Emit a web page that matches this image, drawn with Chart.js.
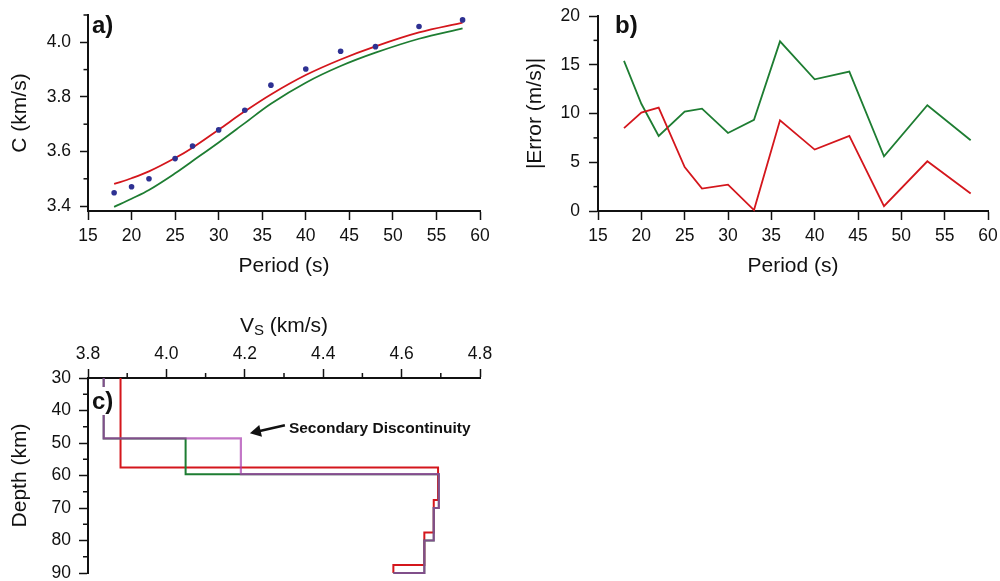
<!DOCTYPE html>
<html>
<head>
<meta charset="utf-8">
<script src="https://cdn.jsdelivr.net/npm/chart.js@4.4.1/dist/chart.umd.min.js"></script>
<style>
  html, body { margin: 0; padding: 0; background: #fff; }
  #wrap { position: relative; width: 1000px; height: 581px; overflow: hidden; }
  canvas { position: absolute; }
  #chartA { left: 0; top: 0; }
  #chartB { left: 500px; top: 0; }
  #chartC { left: 0; top: 300px; }
</style>
</head>
<body>
<div id="wrap">
  <canvas id="chartA" width="500" height="290"></canvas>
  <canvas id="chartB" width="500" height="290"></canvas>
  <canvas id="chartC" width="500" height="281"></canvas>
</div>
<script>
// periods (s), shared by a) and b)
const periods = [18, 20, 22, 25, 27, 30, 33, 36, 40, 44, 48, 53, 58];

// a) phase velocity C (km/s)
const observedC = [3.449, 3.471, 3.500, 3.574, 3.620, 3.679, 3.751, 3.843, 3.902, 3.967, 3.984, 4.058, 4.082];
const redModelC = [3.481, 3.502, 3.527, 3.576, 3.614, 3.680, 3.747, 3.809, 3.880, 3.937, 3.985, 4.036, 4.072];
const greenModelC = [3.397, 3.427, 3.459, 3.520, 3.565, 3.633, 3.704, 3.775, 3.852, 3.913, 3.962, 4.013, 4.051];

// b) |error| (m/s)
const redError = [8.5, 10.1, 10.6, 4.5, 2.3, 2.7, 0.1, 9.3, 6.3, 7.7, 0.5, 5.1, 1.8];
const greenError = [15.4, 11.0, 7.7, 10.2, 10.5, 8.0, 9.35, 17.4, 13.5, 14.3, 5.6, 10.85, 7.25];

// c) Vs profiles: layer tops (km) and layer velocities (km/s)
const redTops = [30, 57.5, 67.5, 77.5, 87.5];
const redVs = [3.883, 4.693, 4.682, 4.658, 4.579];
const greenTops = [30, 48.6, 59.6, 70, 80, 90];
const greenVs = [3.84, 4.049, 4.695, 4.682, 4.658, 4.579];
const purpleTops = [30, 48.6, 59.6, 70, 80, 90];
const purpleVs = [3.84, 4.19, 4.695, 4.682, 4.658, 4.579];
const profileBottom = 90;

// annotation in c)
const annoText = 'Secondary Discontinuity';
const annoVs = 4.213;
const annoDepth = 47.0;

// ticks
const periodTicks = [15, 20, 25, 30, 35, 40, 45, 50, 55, 60];
const cTicks = [3.4, 3.6, 3.8, 4.0];
const cMinor = [3.5, 3.7, 3.9, 4.1];
const errTicks = [0, 5, 10, 15, 20];
const errMinor = [2.5, 7.5, 12.5, 17.5];
const vsTicks = [3.8, 4.0, 4.2, 4.4, 4.6, 4.8];
const vsMinor = [3.9, 4.1, 4.3, 4.5, 4.7];
const depthTicks = [30, 40, 50, 60, 70, 80, 90];
const depthMinor = [35, 45, 55, 65, 75, 85];

const FONT = "'Liberation Sans', Arial, Helvetica, sans-serif";
const INK = '#111';
const RED = '#d4161c';
const GREEN = '#1e7d32';
const PURPLE = 'rgba(170, 60, 175, 0.7)';
const BLUE = '#2e3192';

function pairs(xs, ys) {
    return xs.map((x, i) => ({ x: x, y: ys[i] }));
}

// turn layered model into step-line points (x = velocity, y = depth)
function stepPoints(tops, vs, bottom) {
    const pts = [];
    tops.forEach((top, i) => {
        const base = i + 1 < tops.length ? tops[i + 1] : bottom;
        pts.push({ x: vs[i], y: top }, { x: vs[i], y: base });
    });
    return pts;
}

function makeAxis(o) {
    return {
        type: 'linear',
        position: o.position,
        min: o.min,
        max: o.max,
        reverse: !!o.reverse,
        afterBuildTicks: s => { s.ticks = o.ticks.map(v => ({ value: v })); },
        afterFit: s => {
            if (s.isHorizontal()) s.height = o.size;
            else s.width = o.size;
            // keep edge labels from pushing the plot area around
            s.paddingTop = s.paddingBottom = s.paddingLeft = s.paddingRight = 0;
        },
        border: { display: true, color: INK, width: 2 },
        grid: { drawOnChartArea: false, drawTicks: true, tickLength: o.tickLen, tickWidth: 1.5, tickColor: INK },
        ticks: {
            color: INK,
            padding: o.pad,
            autoSkip: false,
            maxRotation: 0,
            font: { family: FONT, size: 17.5 },
            callback: v => Number(v).toFixed(o.digits)
        },
        title: o.title
            ? { display: true, text: o.title, color: INK, font: { family: FONT, size: 21 }, padding: o.titlePad }
            : { display: false }
    };
}

// short minor ticks, placed through the scales
function minorTickPlugin(spec) {
    return {
        id: 'minorTicks',
        afterDraw(chart) {
            const ctx = chart.ctx;
            ctx.save();
            ctx.strokeStyle = INK;
            ctx.lineWidth = 1.5;
            spec.forEach(([id, values, len]) => {
                const s = chart.scales[id];
                values.forEach(v => {
                    const p = s.getPixelForValue(v);
                    ctx.beginPath();
                    if (s.position === 'left') { ctx.moveTo(s.right, p); ctx.lineTo(s.right - len, p); }
                    else if (s.position === 'top') { ctx.moveTo(p, s.bottom); ctx.lineTo(p, s.bottom - len); }
                    else { ctx.moveTo(p, s.top); ctx.lineTo(p, s.top + len); }
                    ctx.stroke();
                });
            });
            ctx.restore();
        }
    };
}

// "a)", "b)", "c)" labels
function panelLabelPlugin(text, dx, dy, box) {
    return {
        id: 'panelLabel',
        afterDatasetsDraw(chart) {
            const { ctx, chartArea } = chart;
            ctx.save();
            if (box) {
                ctx.fillStyle = '#fff';
                ctx.fillRect(chartArea.left + box[0], chartArea.top + box[1], box[2], box[3]);
            }
            ctx.fillStyle = INK;
            ctx.font = 'bold 24px ' + FONT;
            ctx.textBaseline = 'alphabetic';
            ctx.textAlign = 'left';
            ctx.fillText(text, chartArea.left + dx, chartArea.top + dy);
            ctx.restore();
        }
    };
}

const baseOptions = {
    responsive: false,
    animation: false,
    devicePixelRatio: 1,
    events: []
};

// ---------- a) ----------
new Chart(document.getElementById('chartA'), {
    type: 'scatter',
    data: {
        datasets: [
            { data: pairs(periods, observedC), showLine: false, pointRadius: 2.8, pointBackgroundColor: BLUE, pointBorderWidth: 0 },
            { data: pairs(periods, redModelC), showLine: true, borderColor: RED, borderWidth: 1.8, pointRadius: 0, tension: 0.35 },
            { data: pairs(periods, greenModelC), showLine: true, borderColor: GREEN, borderWidth: 1.8, pointRadius: 0, tension: 0.35 }
        ]
    },
    options: {
        ...baseOptions,
        layout: { padding: { left: 0, top: 15, right: 20, bottom: 0 } },
        plugins: { legend: { display: false }, tooltip: { enabled: false } },
        scales: {
            x: makeAxis({ position: 'bottom', min: 15, max: 60, ticks: periodTicks, size: 79, tickLen: 9, pad: 6, digits: 0,
                title: 'Period (s)', titlePad: { bottom: 11 } }),
            y: makeAxis({ position: 'left', min: 3.382, max: 4.1, ticks: cTicks, size: 88, tickLen: 8, pad: 9, digits: 1,
                title: 'C (km/s)', titlePad: { top: 8 } })
        }
    },
    plugins: [minorTickPlugin([['y', cMinor, 4.5]]), panelLabelPlugin('a)', 4, 18)]
});

// ---------- b) ----------
new Chart(document.getElementById('chartB'), {
    type: 'scatter',
    data: {
        datasets: [
            { data: pairs(periods, redError), showLine: true, borderColor: RED, borderWidth: 1.8, pointRadius: 0, clip: 3 },
            { data: pairs(periods, greenError), showLine: true, borderColor: GREEN, borderWidth: 1.8, pointRadius: 0, clip: 3 }
        ]
    },
    options: {
        ...baseOptions,
        layout: { padding: { left: 0, top: 16, right: 12, bottom: 0 } },
        plugins: { legend: { display: false }, tooltip: { enabled: false } },
        scales: {
            x: makeAxis({ position: 'bottom', min: 15, max: 60, ticks: periodTicks, size: 79, tickLen: 9, pad: 6, digits: 0,
                title: 'Period (s)', titlePad: { bottom: 11 } }),
            y: makeAxis({ position: 'left', min: 0, max: 20, ticks: errTicks, size: 98, tickLen: 9, pad: 9, digits: 0,
                title: '|Error (m/s)|', titlePad: { top: 23 } })
        }
    },
    plugins: [minorTickPlugin([['y', errMinor, 4.5]]), panelLabelPlugin('b)', 17, 17)]
});

// ---------- c) ----------
const vsTitlePlugin = {
    id: 'vsTitle',
    afterDraw(chart) {
        const { ctx, chartArea } = chart;
        ctx.save();
        ctx.fillStyle = INK;
        ctx.textBaseline = 'alphabetic';
        ctx.textAlign = 'left';
        const big = '21px ' + FONT, small = '15px ' + FONT;
        ctx.font = big;
        const wV = ctx.measureText('V').width;
        const wRest = ctx.measureText(' (km/s)').width;
        ctx.font = small;
        const wS = ctx.measureText('S').width;
        let x = (chartArea.left + chartArea.right) / 2 - (wV + wS + wRest) / 2;
        const base = chartArea.top - 46;
        ctx.font = big;
        ctx.fillText('V', x, base);
        x += wV;
        ctx.font = small;
        ctx.fillText('S', x, base + 3);
        x += wS;
        ctx.font = big;
        ctx.fillText(' (km/s)', x, base);
        ctx.restore();
    }
};

const annotationPlugin = {
    id: 'annotation',
    afterDatasetsDraw(chart) {
        const { ctx, scales } = chart;
        const tx = scales.x.getPixelForValue(annoVs);
        const ty = scales.y.getPixelForValue(annoDepth);
        const ex = tx + 35, ey = ty - 8;
        const ang = Math.atan2(ey - ty, ex - tx);
        const hl = 11, hw = 6;
        ctx.save();
        ctx.strokeStyle = INK;
        ctx.fillStyle = INK;
        ctx.lineWidth = 2.6;
        ctx.beginPath();
        ctx.moveTo(tx + Math.cos(ang) * (hl - 2), ty + Math.sin(ang) * (hl - 2));
        ctx.lineTo(ex, ey);
        ctx.stroke();
        const bx = tx + Math.cos(ang) * hl, by = ty + Math.sin(ang) * hl;
        ctx.beginPath();
        ctx.moveTo(tx, ty);
        ctx.lineTo(bx - Math.sin(ang) * hw, by + Math.cos(ang) * hw);
        ctx.lineTo(bx + Math.sin(ang) * hw, by - Math.cos(ang) * hw);
        ctx.closePath();
        ctx.fill();
        ctx.font = 'bold 15.5px ' + FONT;
        ctx.textBaseline = 'alphabetic';
        ctx.textAlign = 'left';
        ctx.fillText(annoText, tx + 39, ty - 0.5);
        ctx.restore();
    }
};

new Chart(document.getElementById('chartC'), {
    type: 'scatter',
    data: {
        datasets: [
            { data: stepPoints(purpleTops, purpleVs, profileBottom), showLine: true, borderColor: PURPLE, borderWidth: 2.2, pointRadius: 0, clip: 4 },
            { data: stepPoints(greenTops, greenVs, profileBottom), showLine: true, borderColor: GREEN, borderWidth: 2, pointRadius: 0, clip: 4 },
            { data: stepPoints(redTops, redVs, profileBottom), showLine: true, borderColor: RED, borderWidth: 2, pointRadius: 0, clip: 4 }
        ]
    },
    options: {
        ...baseOptions,
        layout: { padding: { left: 0, top: 0, right: 20, bottom: 8 } },
        plugins: { legend: { display: false }, tooltip: { enabled: false } },
        scales: {
            x: makeAxis({ position: 'top', min: 3.8, max: 4.8, ticks: vsTicks, size: 78, tickLen: 9, pad: 4, digits: 1 }),
            y: makeAxis({ position: 'left', min: 30, max: 90, reverse: true, ticks: depthTicks, size: 88, tickLen: 9, pad: 8, digits: 0,
                title: 'Depth (km)', titlePad: { top: 8 } })
        }
    },
    plugins: [
        minorTickPlugin([['x', vsMinor, 5], ['y', depthMinor, 5]]),
        panelLabelPlugin('c)', 4, 31, [2, 9, 26, 28]),
        annotationPlugin,
        vsTitlePlugin
    ]
});
</script>
</body>
</html>
